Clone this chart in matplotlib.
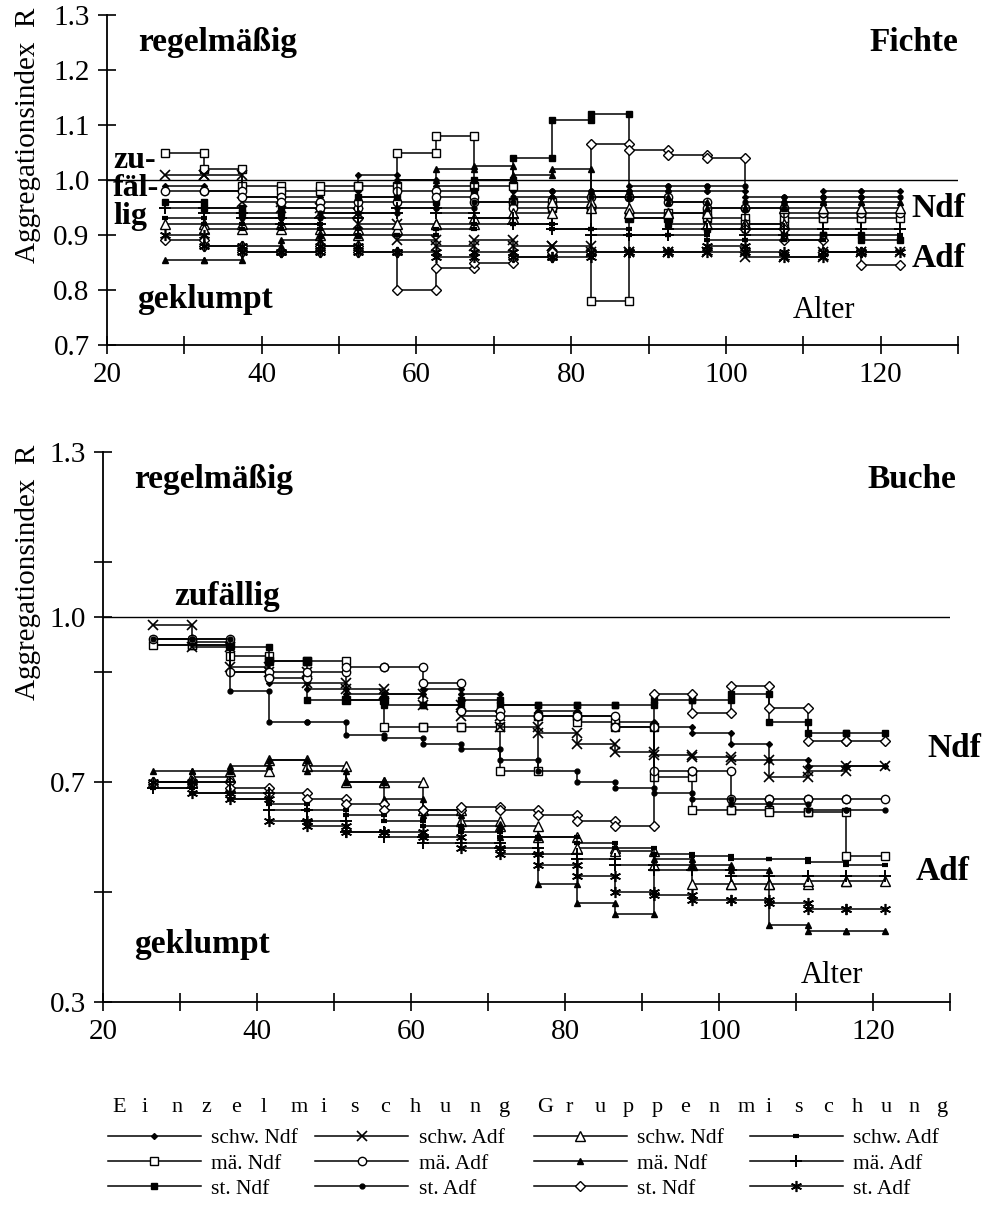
import matplotlib
matplotlib.use('Agg')
import matplotlib.pyplot as plt
from matplotlib.lines import Line2D

plt.rcParams['font.family'] = ['Liberation Serif', 'DejaVu Serif']

# Class limits (age, years) -- each value covers one 5-year class
fichte_edges = [27.5, 32.5, 37.5, 42.5, 47.5, 52.5, 57.5, 62.5, 67.5, 72.5,
                77.5, 82.5, 87.5, 92.5, 97.5, 102.5, 107.5, 112.5, 117.5, 122.5]
buche_edges = [26.5, 31.5, 36.5, 41.5, 46.5, 51.5, 56.5, 61.5, 66.5, 71.5,
               76.5, 81.5, 86.5, 91.5, 96.5, 101.5, 106.5, 111.5, 116.5, 121.5]

# Fichte - Einzelmischung
fi_e_schw_ndf = [0.99, 0.98, 0.97, 0.97, 0.98, 1.01, 1.00, 0.99, 1.00, 0.98, 0.97, 0.98, 0.99, 0.98, 0.98, 0.97, 0.96, 0.98, 0.98]
fi_e_mae_ndf = [1.05, 1.02, 0.99, 0.98, 0.99, 0.99, 1.05, 1.08, 0.99, 0.96, 0.95, 0.78, 0.93, 0.94, 0.93, 0.92, 0.93, 0.93, 0.93]
fi_e_st_ndf = [0.96, 0.95, 0.94, 0.95, 0.96, 0.97, 0.96, 0.98, 1.00, 1.04, 1.11, 1.12, 0.93, 0.92, 0.91, 0.91, 0.90, 0.90, 0.89]
fi_e_schw_adf = [1.01, 1.01, 0.96, 0.95, 0.94, 0.92, 0.89, 0.88, 0.89, 0.88, 0.88, 0.87, 0.87, 0.87, 0.87, 0.86, 0.86, 0.87, 0.87]
fi_e_mae_adf = [0.98, 0.98, 0.97, 0.96, 0.95, 0.96, 0.98, 0.97, 0.96, 0.95, 0.95, 0.97, 0.97, 0.96, 0.95, 0.95, 0.94, 0.94, 0.94]
fi_e_st_adf = [0.96, 0.95, 0.93, 0.93, 0.94, 0.94, 0.95, 0.95, 0.96, 0.97, 0.98, 0.97, 0.98, 0.99, 0.99, 0.96, 0.97, 0.97, 0.97]
# Fichte - Gruppenmischung
fi_g_schw_ndf = [0.92, 0.91, 0.92, 0.91, 0.90, 0.91, 0.92, 0.92, 0.93, 0.94, 0.96, 0.95, 0.94, 0.94, 0.92, 0.92, 0.95, 0.95, 0.95]
fi_g_schw_adf = [0.93, 0.92, 0.91, 0.92, 0.91, 0.90, 0.90, 0.91, 0.92, 0.92, 0.91, 0.91, 0.90, 0.90, 0.89, 0.89, 0.89, 0.90, 0.90]
fi_g_mae_ndf = [0.855, 0.855, 0.88, 0.89, 0.90, 0.97, 1.00, 1.02, 1.025, 1.01, 1.02, 0.98, 0.97, 0.96, 0.95, 0.95, 0.96, 0.96, 0.96]
fi_g_mae_adf = [0.95, 0.94, 0.93, 0.92, 0.93, 0.94, 0.95, 0.94, 0.93, 0.92, 0.91, 0.90, 0.90, 0.91, 0.91, 0.90, 0.91, 0.91, 0.91]
fi_g_st_ndf = [0.89, 0.88, 0.87, 0.87, 0.88, 0.87, 0.80, 0.84, 0.85, 0.86, 0.87, 1.065, 1.055, 1.045, 1.04, 0.91, 0.89, 0.87, 0.845]
fi_g_st_adf = [0.90, 0.88, 0.87, 0.87, 0.88, 0.87, 0.87, 0.86, 0.87, 0.86, 0.86, 0.87, 0.87, 0.87, 0.88, 0.87, 0.86, 0.87, 0.87]

# Buche - Einzelmischung
bu_e_schw_ndf = [0.95, 0.95, 0.90, 0.88, 0.87, 0.86, 0.86, 0.87, 0.86, 0.84, 0.83, 0.82, 0.81, 0.80, 0.79, 0.77, 0.74, 0.73, 0.73]
bu_e_mae_ndf = [0.95, 0.95, 0.93, 0.92, 0.92, 0.85, 0.80, 0.80, 0.80, 0.72, 0.82, 0.81, 0.80, 0.71, 0.65, 0.65, 0.645, 0.645, 0.565]
bu_e_st_ndf = [0.96, 0.955, 0.945, 0.92, 0.85, 0.85, 0.84, 0.84, 0.85, 0.84, 0.84, 0.84, 0.84, 0.85, 0.85, 0.86, 0.81, 0.79, 0.79]
bu_e_schw_adf = [0.985, 0.945, 0.91, 0.90, 0.88, 0.87, 0.86, 0.84, 0.82, 0.80, 0.79, 0.77, 0.755, 0.75, 0.745, 0.74, 0.71, 0.72, 0.73]
bu_e_mae_adf = [0.96, 0.96, 0.90, 0.89, 0.90, 0.91, 0.91, 0.88, 0.83, 0.82, 0.82, 0.82, 0.80, 0.72, 0.72, 0.67, 0.67, 0.67, 0.67]
bu_e_st_adf = [0.96, 0.96, 0.865, 0.81, 0.81, 0.785, 0.78, 0.77, 0.76, 0.74, 0.72, 0.70, 0.69, 0.68, 0.67, 0.66, 0.66, 0.65, 0.65]
# Buche - Gruppenmischung
bu_g_schw_ndf = [0.70, 0.71, 0.72, 0.74, 0.73, 0.70, 0.70, 0.65, 0.63, 0.62, 0.60, 0.58, 0.575, 0.55, 0.515, 0.515, 0.515, 0.52, 0.52]
bu_g_schw_adf = [0.69, 0.68, 0.67, 0.66, 0.65, 0.64, 0.63, 0.62, 0.61, 0.60, 0.60, 0.59, 0.58, 0.57, 0.565, 0.56, 0.56, 0.555, 0.55]
bu_g_mae_ndf = [0.72, 0.72, 0.73, 0.74, 0.72, 0.70, 0.67, 0.64, 0.62, 0.60, 0.515, 0.48, 0.46, 0.56, 0.55, 0.54, 0.44, 0.43, 0.43]
bu_g_mae_adf = [0.69, 0.70, 0.68, 0.65, 0.63, 0.61, 0.60, 0.59, 0.59, 0.58, 0.57, 0.56, 0.55, 0.54, 0.54, 0.53, 0.53, 0.53, 0.53]
bu_g_st_ndf = [0.70, 0.70, 0.69, 0.68, 0.67, 0.66, 0.65, 0.65, 0.655, 0.65, 0.64, 0.63, 0.62, 0.86, 0.825, 0.875, 0.835, 0.775, 0.775]
bu_g_st_adf = [0.70, 0.68, 0.67, 0.63, 0.62, 0.61, 0.61, 0.60, 0.58, 0.57, 0.55, 0.53, 0.50, 0.495, 0.485, 0.485, 0.48, 0.47, 0.47]

labels = ['schw. Ndf', 'mä. Ndf', 'st. Ndf', 'schw. Adf', 'mä. Adf', 'st. Adf']

# marker styles: Einzelmischung, then Gruppenmischung (same order as labels)
styles_e = [dict(marker='D', ms=3, mfc='black'),
            dict(marker='s', ms=6, mfc='white'),
            dict(marker='s', ms=4, mfc='black'),
            dict(marker='x', ms=7, mew=1.2),
            dict(marker='o', ms=6, mfc='white'),
            dict(marker='o', ms=3.5, mfc='black')]
styles_g = [dict(marker='^', ms=7, mfc='white'),
            dict(marker='^', ms=4, mfc='black'),
            dict(marker='D', ms=5.5, mfc='white'),
            dict(marker='_', ms=4.5, mew=3),
            dict(marker='+', ms=8, mew=1.4),
            dict(marker=(6, 2, 0), ms=8, mew=1.2)]

fichte_e = [fi_e_schw_ndf, fi_e_mae_ndf, fi_e_st_ndf, fi_e_schw_adf, fi_e_mae_adf, fi_e_st_adf]
fichte_g = [fi_g_schw_ndf, fi_g_mae_ndf, fi_g_st_ndf, fi_g_schw_adf, fi_g_mae_adf, fi_g_st_adf]
buche_e = [bu_e_schw_ndf, bu_e_mae_ndf, bu_e_st_ndf, bu_e_schw_adf, bu_e_mae_adf, bu_e_st_adf]
buche_g = [bu_g_schw_ndf, bu_g_mae_ndf, bu_g_st_ndf, bu_g_schw_adf, bu_g_mae_adf, bu_g_st_adf]


def steps(edges, vals):
    # each value is drawn over its age class, with marks at both class limits
    xs, ys = [], []
    for i, v in enumerate(vals):
        xs += [edges[i], edges[i + 1]]
        ys += [v, v]
    return xs, ys


def draw_series(ax, edges, series, styles):
    for vals, st in zip(series, styles):
        xs, ys = steps(edges, vals)
        kw = dict(color='black', lw=1.1, mec='black', mew=1.0)
        kw.update(st)
        ax.plot(xs, ys, clip_on=False, **kw)


def setup_axis(ax):
    for s in ['top', 'right']:
        ax.spines[s].set_visible(False)
    for s in ['left', 'bottom']:
        ax.spines[s].set_linewidth(1.3)
    ax.tick_params(direction='inout', length=13, width=1.2, labelsize=21, pad=6)
    ax.set_xlim(20, 130)
    ax.set_xticks(range(20, 131, 10))
    ax.set_xticklabels([str(v) if v % 20 == 0 and v < 130 else '' for v in range(20, 131, 10)])
    ax.axhline(1.0, color='black', lw=1.0, zorder=0)


W, H = 985, 1207
fig = plt.figure(figsize=(W / 100, H / 100), dpi=100)

# ---- Fichte
ax1 = fig.add_axes([107 / W, 1 - 345 / H, (958 - 107) / W, (345 - 15) / H])
setup_axis(ax1)
ax1.set_ylim(0.7, 1.3)
ax1.set_yticks([0.7, 0.8, 0.9, 1.0, 1.1, 1.2, 1.3])
ax1.set_yticklabels(['0.7', '0.8', '0.9', '1.0', '1.1', '1.2', '1.3'])
draw_series(ax1, fichte_edges, fichte_e, styles_e)
draw_series(ax1, fichte_edges, fichte_g, styles_g)

bold = dict(fontsize=24, fontweight='bold')
ax1.text(24.0, 1.235, 'regelmäßig', ha='left', va='baseline', **bold)
ax1.text(118.5, 1.235, 'Fichte', ha='left', va='baseline', **bold)
ax1.text(20.8, 0.985, 'zu-\nfäl-\nlig', ha='left', va='center', linespacing=0.95,
         fontsize=23, fontweight='bold')
ax1.text(23.9, 0.767, 'geklumpt', ha='left', va='baseline', **bold)
ax1.text(108.6, 0.749, 'Alter', ha='left', va='baseline', fontsize=22)
ax1.text(124.0, 0.933, 'Ndf', ha='left', va='baseline', clip_on=False, **bold)
ax1.text(124.0, 0.842, 'Adf', ha='left', va='baseline', clip_on=False, **bold)

# ---- Buche
ax2 = fig.add_axes([103 / W, 1 - 1002 / H, (950 - 103) / W, (1002 - 452) / H])
setup_axis(ax2)
ax2.set_ylim(0.3, 1.3)
ax2.set_yticks([0.3, 0.5, 0.7, 0.9, 1.0, 1.1, 1.3])
ax2.set_yticklabels(['0.3', '', '0.7', '', '1.0', '', '1.3'])
draw_series(ax2, buche_edges, buche_e, styles_e)
draw_series(ax2, buche_edges, buche_g, styles_g)

ax2.text(24.0, 1.235, 'regelmäßig', ha='left', va='baseline', **bold)
ax2.text(119.3, 1.235, 'Buche', ha='left', va='baseline', **bold)
ax2.text(29.3, 1.022, 'zufällig', ha='left', va='baseline', **bold)
ax2.text(24.0, 0.39, 'geklumpt', ha='left', va='baseline', **bold)
ax2.text(110.6, 0.335, 'Alter', ha='left', va='baseline', fontsize=22)
ax2.text(127.0, 0.745, 'Ndf', ha='left', va='baseline', clip_on=False, **bold)
ax2.text(125.5, 0.522, 'Adf', ha='left', va='baseline', clip_on=False, **bold)

# y axis titles
fig.text(28 / W, 1 - 8 / H, 'Aggregationsindex  R', rotation=90, ha='center', va='top', fontsize=21)
fig.text(28 / W, 1 - 445 / H, 'Aggregationsindex  R', rotation=90, ha='center', va='top', fontsize=21)

# ---- legend
def make_handles(styles):
    hs = []
    for st in styles:
        kw = dict(color='black', lw=1.1, mec='black', mew=1.0)
        kw.update(st)
        hs.append(Line2D([], [], **kw))
    return hs

leg_kw = dict(loc='upper left', ncol=2, fontsize=15.5, handlelength=4.3, handletextpad=0.5,
              labelspacing=0.25, frameon=False, borderaxespad=0, borderpad=0, numpoints=1)
fig.legend(make_handles(styles_e), labels, bbox_to_anchor=(108 / W, 1 - 1128 / H),
           columnspacing=0.8, **leg_kw)
fig.legend(make_handles(styles_g), labels, bbox_to_anchor=(534 / W, 1 - 1128 / H),
           columnspacing=1.2, **leg_kw)

# letter-spaced group headers
for i, ch in enumerate('Einzelmischung'):
    fig.text((112 + i * 29.8) / W, 1 - 1112 / H, ch, ha='left', va='baseline', fontsize=16)
for i, ch in enumerate('Gruppenmischung'):
    fig.text((537 + i * 28.6) / W, 1 - 1112 / H, ch, ha='left', va='baseline', fontsize=16)

fig.savefig('out.png', dpi=100)
